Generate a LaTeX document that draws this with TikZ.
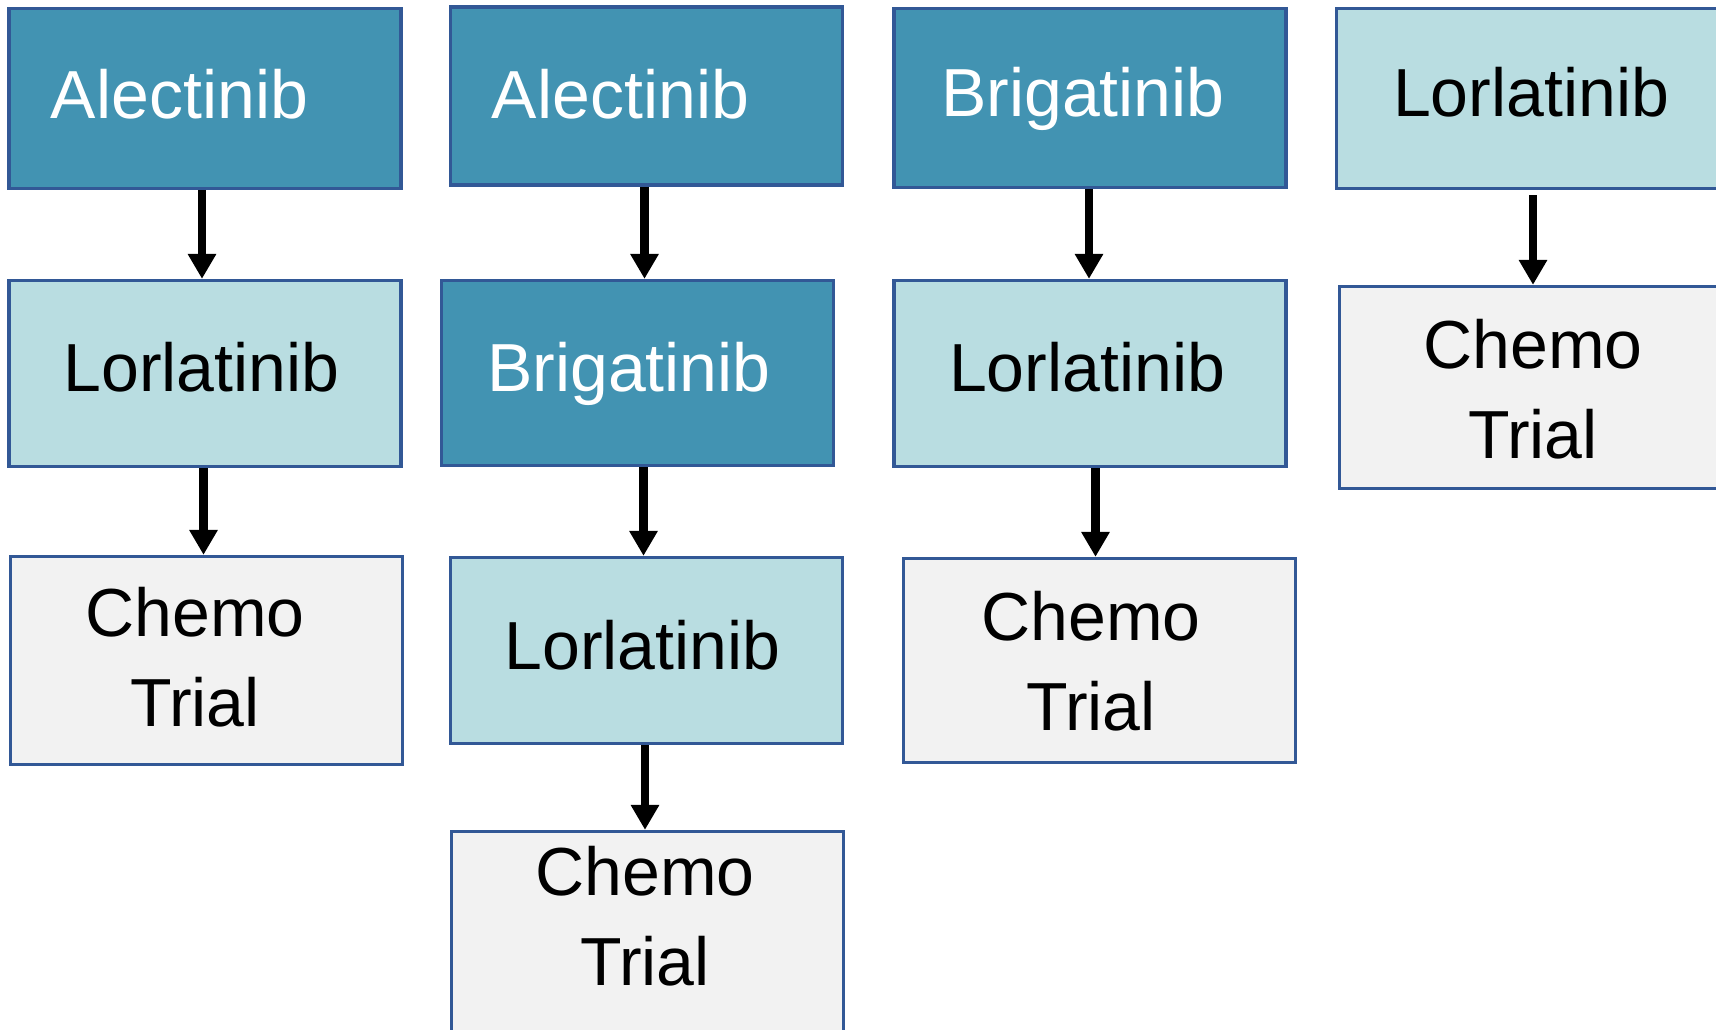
\documentclass[tikz,border=0pt]{standalone}
\usepackage{fontspec}
\setmainfont{Liberation Sans}
\usetikzlibrary{arrows.meta}
\definecolor{darkteal}{RGB}{66,147,178}
\definecolor{lightteal}{RGB}{185,221,225}
\definecolor{lightgray}{RGB}{242,242,242}
\definecolor{bordercol}{RGB}{50,88,150}
\tikzset{
  box/.style={draw=bordercol, line width=3.3pt, rectangle, inner sep=0pt, minimum width=392pt},
  darkbox/.style={box, fill=darkteal},
  lightbox/.style={box, fill=lightteal},
  graybox/.style={box, fill=lightgray},
  txt/.style={font=\fontsize{68pt}{90pt}\selectfont, inner sep=0pt, anchor=base, align=center},
  wtxt/.style={txt, text=white},
  conn/.style={line width=8.5pt, -{Triangle[width=27pt,length=25pt]}},
}
\begin{document}
\begin{tikzpicture}[x=1pt, y=-1pt]
\useasboundingbox (0,0) rectangle (1716,1029);
% column 1
\node[darkbox, minimum height=180pt] (A1) at (205,98.5) {};
\node[lightbox, minimum height=186pt] (L1) at (205,373.5) {};
\node[graybox, minimum height=208pt] (C1) at (206.5,660.5) {};
% column 2
\node[darkbox, minimum height=178pt] (A2) at (646.5,96) {};
\node[darkbox, minimum height=185pt] (B2) at (637.5,373) {};
\node[lightbox, minimum height=186pt] (L2) at (646.5,650.5) {};
\node[graybox, minimum height=208pt] (C2) at (647.5,935.5) {};
% column 3
\node[darkbox, minimum height=179pt] (B3) at (1090,98) {};
\node[lightbox, minimum height=186pt] (L3) at (1090,373.5) {};
\node[graybox, minimum height=204pt] (C3) at (1099.5,660.5) {};
% column 4
\node[lightbox, minimum height=180pt] (L4) at (1532.5,98.5) {};
\node[graybox, minimum height=202pt] (C4) at (1535.5,387.5) {};
% texts
\node[wtxt] (A1t) at (179.5,118) {Alectinib};
\node[txt] (L1t) at (201.4,391.8) {Lorlatinib};
\node[txt] (C1t) at (195,726.7) {Chemo\\Trial};
\node[wtxt] (A2t) at (620.5,118) {Alectinib};
\node[wtxt] (B2t) at (629,391.8) {Brigatinib};
\node[txt] (L2t) at (642.4,669.8) {Lorlatinib};
\node[txt] (C2t) at (645,985) {Chemo\\Trial};
\node[wtxt] (B3t) at (1083,116) {Brigatinib};
\node[txt] (L3t) at (1087,391.8) {Lorlatinib};
\node[txt] (C3t) at (1091,730) {Chemo\\Trial};
\node[txt] (L4t) at (1531,116.5) {Lorlatinib};
\node[txt] (C4t) at (1533,458) {Chemo\\Trial};
% connectors
\draw[conn] ([xshift=-3pt]A1.south) -- ([xshift=-3pt]L1.north);
\draw[conn] ([xshift=-1.5pt]L1.south) -- ([xshift=-3pt]C1.north);
\draw[conn] ([xshift=-2pt]A2.south) -- ([xshift=7pt]B2.north);
\draw[conn] ([xshift=6pt]B2.south) -- ([xshift=-3pt]L2.north);
\draw[conn] ([xshift=-1.5pt]L2.south) -- ([xshift=-2.5pt]C2.north);
\draw[conn] ([xshift=-1pt]B3.south) -- ([xshift=-1pt]L3.north);
\draw[conn] ([xshift=5.5pt]L3.south) -- ([xshift=-4pt]C3.north);
\draw[conn, shorten <=5pt] ([xshift=0.5pt]L4.south) -- ([xshift=-2.5pt]C4.north);
\end{tikzpicture}
\end{document}
